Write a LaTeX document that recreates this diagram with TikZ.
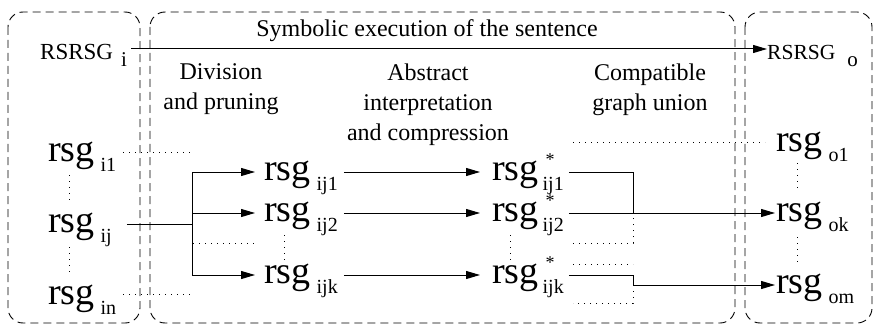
\documentclass[tikz,border=0pt]{standalone}
\usepackage{fontspec}
\setmainfont{Liberation Serif}
\usetikzlibrary{arrows.meta,calc}
\newcommand\rsgsub[1]{\hspace{6pt}\raisebox{-10pt}{\fontsize{20}{20}\selectfont #1}}
\newcommand\rsgstar[1]{\hspace{4pt}\rlap{\hspace{3pt}\raisebox{15pt}{\fontsize{18}{18}\selectfont *}}\raisebox{-10pt}{\fontsize{20}{20}\selectfont #1}}
\newcommand\bigsub[2]{\hspace{#1}\raisebox{-7pt}{\fontsize{21}{21}\selectfont #2}}
\begin{document}
\begin{tikzpicture}[x=1pt,y=-1pt,
  box/.style={draw, dash pattern=on 8pt off 5pt, rounded corners=15pt, line width=0.9pt},
  conn/.style={line width=1pt},
  arr/.style={conn, -{Triangle[length=14pt,width=8pt]}},
  dots/.style={line width=0.9pt, dash pattern=on 1pt off 5pt},
  rsg/.style={anchor=west, inner sep=0pt, text height=17pt, text depth=0pt, font=\fontsize{38}{38}\selectfont},
  big/.style={anchor=west, inner sep=0pt, text height=22pt, text depth=0pt},
  lbl/.style={align=center, anchor=north, font=\fontsize{24}{30}\selectfont, inner sep=0pt},
]
\useasboundingbox (0,0) rectangle (875,326);

% boxes
\draw[box] (8,12) rectangle (140,323);
\draw[box] (150,12) rectangle (735,323);
\draw[box] (745,12) rectangle (872,323);

% texts
\node[lbl, anchor=base] (title) at (427,37) {Symbolic execution of the sentence};
\node[lbl] (colA) at (221,63.6) {Division\\and pruning};
\node[lbl] (colB) at (428,63.6) {Abstract\\interpretation\\and compression};
\node[lbl] (colC) at (650,63.6) {Compatible\\graph union};

\node[big, font=\fontsize{23}{23}\selectfont] (Ri) at (40,49) {RSRSG\bigsub{8pt}{i}};
\node[big, font=\fontsize{21.5}{21.5}\selectfont] (Ro) at (767,49) {RSRSG\bigsub{12pt}{o}};

\node[rsg] (i1) at (48,153) {rsg\rsgsub{i1}};
\node[rsg] (ij) at (48,224) {rsg\rsgsub{ij}};
\node[rsg] (in) at (48,296) {rsg\rsgsub{in}};
\node[rsg] (a1) at (264,172) {rsg\rsgsub{ij1}};
\node[rsg] (a2) at (264,213) {rsg\rsgsub{ij2}};
\node[rsg] (ak) at (264,275) {rsg\rsgsub{ijk}};
\node[rsg] (b1) at (492,172) {rsg\rsgstar{ij1}};
\node[rsg] (b2) at (492,213) {rsg\rsgstar{ij2}};
\node[rsg] (bk) at (492,275) {rsg\rsgstar{ijk}};
\node[rsg] (o1) at (776,143) {rsg\rsgsub{o1}};
\node[rsg] (ok) at (776,213) {rsg\rsgsub{ok}};
\node[rsg] (om) at (776,285) {rsg\rsgsub{om}};

% main arrow
\draw[arr] ($(Ri.east)+(4,0)$) -- (Ro.west);

% division
\coordinate (br) at (192,224);
\draw[conn] ($(ij.east)+(15,0)$) -- (br);
\draw[conn] (br |- a1.west) -- (br |- ak.west);
\draw[arr, shorten >=9pt] (br |- a1.west) -- (a1.west);
\draw[arr, shorten >=9pt] (br |- a2.west) -- (a2.west);
\draw[arr, shorten >=9pt] (br |- ak.west) -- (ak.west);

% abstract interpretation
\draw[arr, shorten >=12pt] ($(a1.east)+(6,0)$) -- (b1.west);
\draw[arr, shorten >=12pt] ($(a2.east)+(6,0)$) -- (b2.west);
\draw[arr, shorten >=12pt] ($(ak.east)+(6,0)$) -- (bk.west);

% union
\coordinate (mx) at (633,0);
\draw[conn] ($(b1.east)+(5,0)$) -- (mx |- b1.east) -- (mx |- b2.east);
\draw[arr, shorten >=1pt] ($(b2.east)+(5,0)$) -- (ok.west);
\draw[conn] ($(bk.east)+(5,0)$) -- (mx |- bk.east) -- (mx |- om.west);
\draw[arr, shorten >=1pt] (mx |- om.west) -- (om.west);

% dotted
\coordinate (d1) at (190,152);
\coordinate (d2) at (190,294);
\draw[dots] ($(i1.east)+(7,-1)$) -- (d1);
\draw[dots] ($(in.east)+(7,-2)$) -- (d2);
\draw[dots] (69,175) -- (69,200);
\draw[dots] (69,247) -- (69,272);
\draw[dots] (193,243) -- (255,243);
\draw[dots] (284,235) -- (284,262);
\draw[dots] (510,235) -- (510,262);
\draw[dots] (573,142) -- (765,142);
\draw[dots] (573,243) -- (633,243) -- (633,213);
\draw[dots] (573,264) -- (633,264);
\draw[dots] (633,285) -- (633,303) -- (573,303);
\draw[dots] (797,163) -- (797,190);
\draw[dots] (797,237) -- (797,262);
\end{tikzpicture}
\end{document}
